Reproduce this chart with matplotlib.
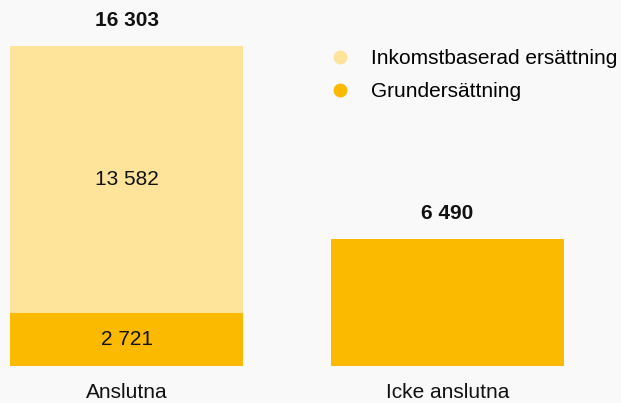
import matplotlib
matplotlib.use('Agg')
import matplotlib.pyplot as plt
from matplotlib.lines import Line2D

categories = ['Anslutna', 'Icke anslutna']
grund = [2721, 6490]
inkomst = [13582, 0]
totals = [16303, 6490]
series_names = ['Inkomstbaserad ersättning', 'Grundersättning']

c_inkomst = '#fee39b'
c_grund = '#fbb900'
bg = '#f9f9f9'

plt.rcParams['font.family'] = ['Liberation Sans', 'DejaVu Sans']


def fmt(v):
    return f'{v:,}'.replace(',', ' ')


fig = plt.figure(figsize=(6.21, 4.03), dpi=100, facecolor=bg)
ax = fig.add_axes([0, (403 - 366) / 403, 1, (366 - 46) / 403])
ax.set_facecolor(bg)

x = [0, 1]
w = 233 / 321
ax.bar(x, grund, width=w, color=c_grund)
ax.bar(x, inkomst, width=w, bottom=grund, color=c_inkomst)

ax.set_xlim(-126.5 / 321, (621 - 126.5) / 321)
ax.set_ylim(0, max(totals))
ax.axis('off')

fs = 15
for i in range(len(x)):
    ax.annotate(fmt(totals[i]), (x[i], totals[i]), xytext=(0, 25),
                textcoords='offset pixels', ha='center', va='center',
                fontsize=fs, fontweight='bold', color='#111111')
    ax.annotate(categories[i], (x[i], 0), xytext=(0, -27),
                textcoords='offset pixels', ha='center', va='center',
                fontsize=fs, color='#111111', annotation_clip=False)
    if inkomst[i] > 0:
        ax.text(x[i], grund[i] / 2, fmt(grund[i]), ha='center', va='center',
                fontsize=fs, color='#111111')
        ax.text(x[i], grund[i] + inkomst[i] / 2, fmt(inkomst[i]), ha='center',
                va='center', fontsize=fs, color='#111111')

handles = [Line2D([], [], marker='o', linestyle='none', markersize=9,
                  markerfacecolor=c, markeredgecolor=c)
           for c in (c_inkomst, c_grund)]
fig.legend(handles, series_names, loc='upper left',
           bbox_to_anchor=(334 / 621, 1 - 49 / 403), frameon=False,
           fontsize=fs, handletextpad=1.2, labelspacing=0.68,
           handlelength=0.6, borderaxespad=0, borderpad=0)

fig.savefig('out.png', dpi=100, facecolor=bg)
